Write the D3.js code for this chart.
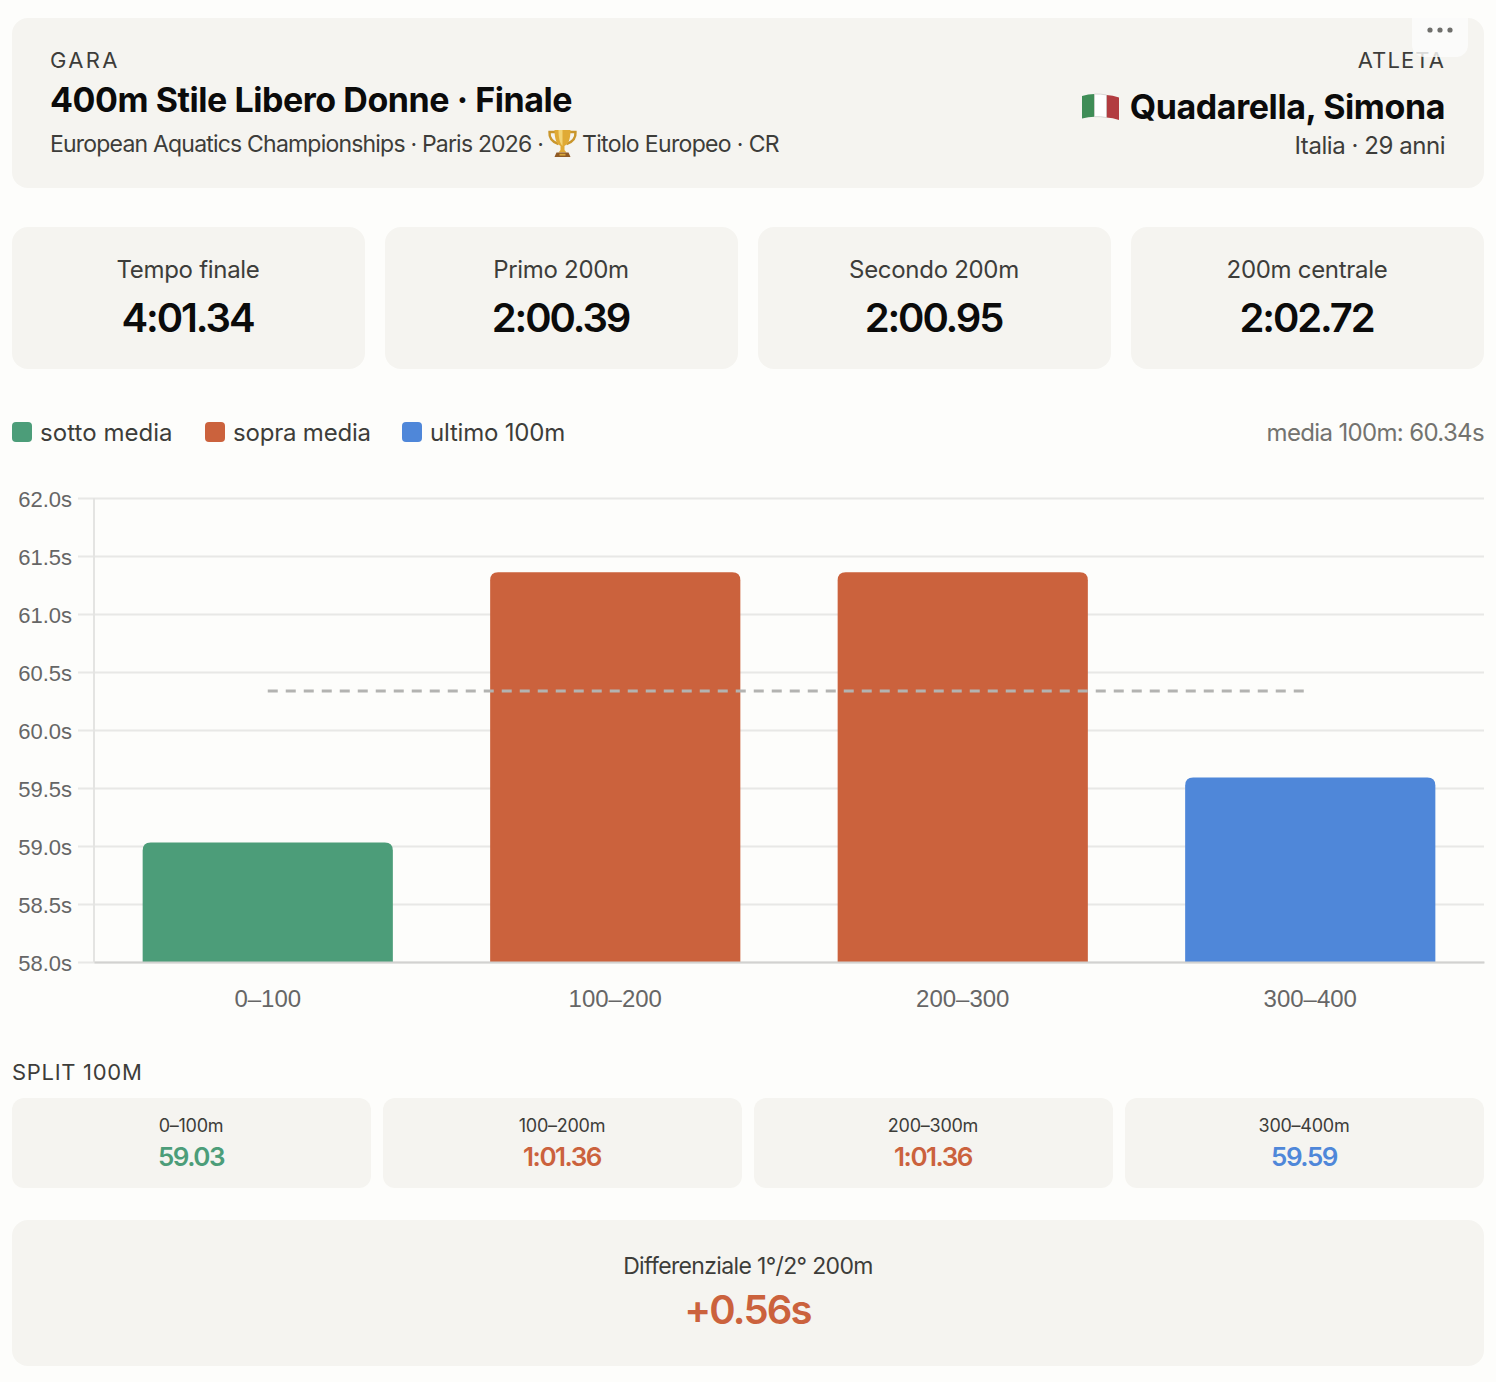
<!DOCTYPE html>
<html><head><meta charset="utf-8">
<script src="https://cdn.jsdelivr.net/npm/d3@7"></script>
<style>html,body{margin:0;padding:0;background:#fdfdfb}svg{display:block}text{font-family:Inter,"Noto Sans",sans-serif}</style>
</head><body><div id="c"></div>
<script>
const splitCategories = ["0–100","100–200","200–300","300–400"];
const splitValues = [59.03,61.36,61.36,59.59];
const splitKinds = ["below","above","above","last"];
const splitCardLabels = ["0–100m","100–200m","200–300m","300–400m"];
const splitCardValues = ["59.03","1:01.36","1:01.36","59.59"];
const yTicks = [58,58.5,59,59.5,60,60.5,61,61.5,62];
const meanValue = 60.34;
const kpiLabels = ["Tempo finale","Primo 200m","Secondo 200m","200m centrale"];
const kpiValues = ["4:01.34","2:00.39","2:00.95","2:02.72"];
const legendLabels = ["sotto media","sopra media","ultimo 100m"];
const legendKinds = ["below","above","last"];
const colors = {below:"#4c9d79",above:"#cb623d",last:"#4f87d9"};
const CARD="#f5f4f0", INK="#0b0b0b", MID="#3d3d3a", AXIS="#666666";

const svg = d3.select("#c").append("svg").attr("width",1496).attr("height",1382);
function card(x,y,w,h,r){svg.append("rect").attr("x",x).attr("y",y).attr("width",w).attr("height",h).attr("rx",r).attr("fill",CARD);}
function txt(x,y,s,size,fill,opt={}){
  const t=svg.append("text").attr("x",x).attr("y",y).text(s).attr("font-size",size).attr("fill",fill)
   .attr("text-anchor",opt.anchor||"start").attr("font-weight",opt.weight||400);
  if(opt.ls!==undefined)t.attr("letter-spacing",opt.ls);
  return t;
}
// header
card(12,18,1472,170,16);
txt(50,68,"GARA",22,MID,{ls:2.3});
txt(50,112,"400m Stile Libero Donne · Finale",34,INK,{weight:700,ls:-0.45});
txt(50,152,"European Aquatics Championships · Paris 2026 ·",23,MID,{ls:-0.8});
// trophy
const tr=svg.append("g").attr("transform","translate(562.5,143)");
tr.append("path").attr("d","M-7,-11 H-13 C-13.5,-5 -10,-1 -4,1 M7,-11 H13 C13.5,-5 10,-1 4,1").attr("fill","none").attr("stroke","#c9962c").attr("stroke-width",2.4);
tr.append("path").attr("d","M-8,-13 H8 C8,-4 6,1 2,3 V7 L4,9.5 H-4 L-2,7 V3 C-6,1 -8,-4 -8,-13 Z").attr("fill","#e0aa35");
tr.append("path").attr("d","M-4,-13 H0 V3 C-3,0 -4,-6 -4,-13 Z").attr("fill","#f3d476");
tr.append("path").attr("d","M-6,9.5 H6 L8,14 H-8 Z").attr("fill","#8f5a24");
tr.append("rect").attr("x",-3).attr("y",10.8).attr("width",6).attr("height",1.8).attr("fill","#d8a63c");
txt(582,152,"Titolo Europeo · CR",23,MID,{ls:-0.65});
txt(1445,68,"ATLETA",22,MID,{anchor:"end",ls:1.1});
// flag
const flag=svg.append("g").attr("transform","translate(1082,94)");
const wave=(a,b)=>{const t=u=>2-2*Math.sin((u/37)*Math.PI*1.25);
  return `M${a},${t(a)} Q${(a+b)/2},${(t(a)+t(b))/2-0.8} ${b},${t(b)} V${t(b)+22.6} Q${(a+b)/2},${(t(a)+t(b))/2+21.8} ${a},${t(a)+22.6} Z`;};
[["#3f8d57",0,12.5],["#ffffff",12.5,24.5],["#b23c40",24.5,37]].forEach(([c,a,b])=>flag.append("path").attr("d",wave(a,b)).attr("fill",c));
flag.append("path").attr("d",wave(12.5,24.5)).attr("fill","none").attr("stroke","#c9c9c5").attr("stroke-width",0.7);
txt(1445,119,"Quadarella, Simona",34,INK,{anchor:"end",weight:700,ls:-0.4});
txt(1445,154,"Italia · 29 anni",24,MID,{anchor:"end",ls:-0.45});
// menu button
svg.append("path").attr("d","M1412,18 H1468 V45 A12,12 0 0 1 1456,57 H1424 A12,12 0 0 1 1412,45 Z").attr("fill","#fdfdfb").attr("fill-opacity",0.82);
[1430,1440,1450].forEach(x=>svg.append("circle").attr("cx",x).attr("cy",30).attr("r",2.6).attr("fill","#6f6f6c"));

// KPI cards
const kpiX=d3.scalePoint().domain(d3.range(4)).range([12,1131]);
kpiLabels.forEach((l,i)=>{
  const x=kpiX(i); card(x,227,353,142,16);
  txt(x+176,278,l,24,MID,{anchor:"middle",ls:-0.3});
  txt(x+175.5,332,kpiValues[i],40,INK,{anchor:"middle",weight:600,ls:-2.1});
});

// legend
const legendX=[12,205,402];
legendLabels.forEach((l,i)=>{
  svg.append("rect").attr("x",legendX[i]).attr("y",422).attr("width",20).attr("height",20).attr("rx",4).attr("fill",colors[legendKinds[i]]);
  txt(legendX[i]+28,441,l,24,MID,{ls:i===0?0.05:-0.2});
});
txt(1484,441,"media 100m: "+meanValue.toFixed(2)+"s",24,"#73736f",{anchor:"end",ls:-0.65});

// chart
const x=d3.scaleBand().domain(splitCategories).range([94,1484]).paddingInner(0.28).paddingOuter(0.14);
const y=d3.scaleLinear().domain([58,62]).range([962,498]);
const AF='"Liberation Sans",Arial,sans-serif';
const gy=svg.append("g").attr("transform","translate(94,0)")
  .call(d3.axisLeft(y).tickValues(yTicks).tickSize(-1390).tickPadding(22).tickFormat(d=>d.toFixed(1)+"s"));
gy.select(".domain").remove();
gy.selectAll(".tick line").attr("stroke","#e8e8e6").attr("stroke-width",2).attr("x1",-16).attr("x2",1390);
gy.selectAll("text").attr("fill",AXIS).attr("font-size",22).attr("dy","0.4em").style("font-family",AF);
svg.append("line").attr("x1",94).attr("x2",94).attr("y1",498).attr("y2",962).attr("stroke","#e4e4e2").attr("stroke-width",2);

const r=8;
svg.append("g").selectAll("path").data(splitValues).join("path")
  .attr("d",(v,i)=>{const a=x(splitCategories[i]),b=a+x.bandwidth(),t=y(v),z=y(58);
    return `M${a},${z}V${t+r}Q${a},${t} ${a+r},${t}H${b-r}Q${b},${t} ${b},${t+r}V${z}Z`;})
  .attr("fill",(v,i)=>colors[splitKinds[i]]);

const gx=svg.append("g").attr("transform","translate(0,962)")
  .call(d3.axisBottom(x).tickSize(0).tickPadding(28));
gx.select(".domain").attr("stroke","#d2d2d0").attr("stroke-width",2);
gx.selectAll("text").attr("fill",AXIS).attr("font-size",24).style("font-family",AF);

svg.append("line").attr("transform","translate(0,0.5)")
  .attr("x1",x(splitCategories[0])+x.bandwidth()/2).attr("x2",x(splitCategories[3])+x.bandwidth()/2)
  .attr("y1",y(meanValue)).attr("y2",y(meanValue)).attr("stroke","#b3b3b1").attr("stroke-width",3).attr("stroke-dasharray","10 8");

// split cards
txt(12,1080,"SPLIT 100M",22,MID,{ls:0.7});
const splitX=d3.scalePoint().domain(d3.range(4)).range([12,1125]);
splitCardLabels.forEach((l,i)=>{
  const cx=splitX(i); card(cx,1098,359,90,12);
  txt(cx+179,1132,l,18,MID,{anchor:"middle",ls:-0.25});
  txt(cx+179,1166,splitCardValues[i],26,colors[splitKinds[i]],{anchor:"middle",weight:600,ls:-1.5});
});
// differential
card(12,1220,1472,146,16);
txt(748,1274,"Differenziale 1°/2° 200m",23,MID,{anchor:"middle",ls:-0.65});
txt(747.5,1324,"+0.56s",40,colors.above,{anchor:"middle",weight:600,ls:-1.8});
</script></body></html>
